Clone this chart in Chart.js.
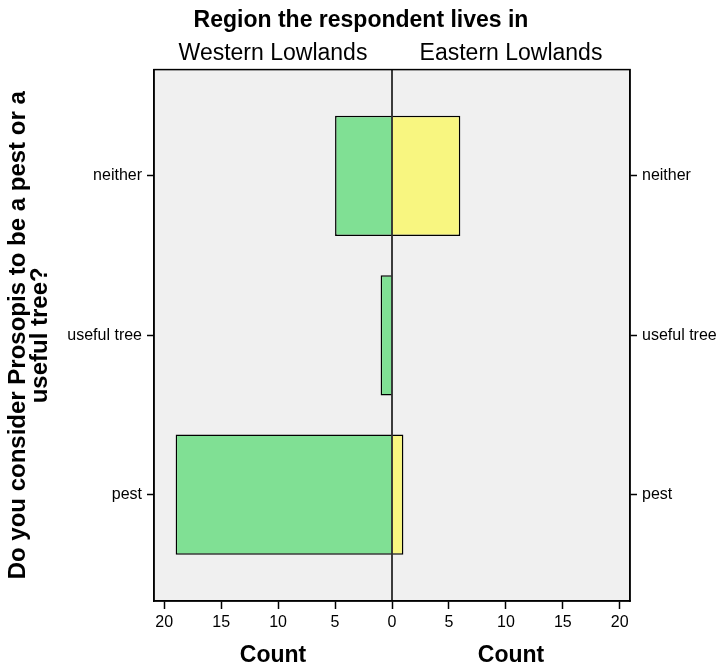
<!DOCTYPE html>
<html>
<head>
<meta charset="utf-8">
<script src="https://cdn.jsdelivr.net/npm/chart.js@4.4.1/dist/chart.umd.min.js"></script>
<style>
  body { margin: 0; background: #fff; }
  #wrap { width: 722px; height: 668px; }
</style>
</head>
<body>
<div id="wrap"><canvas id="chart"></canvas></div>
<script>
const categories = ["neither", "useful tree", "pest"];
const regions = ["Western Lowlands", "Eastern Lowlands"];
const western = [5, 1, 19];
const eastern = [6, 0, 1];
const countTicks = [-20, -15, -10, -5, 0, 5, 10, 15, 20];

const FONT = "'Liberation Sans', Arial, sans-serif";

const frame = {
  id: "frame",
  beforeDraw(chart) {
    const { ctx, chartArea: a } = chart;
    ctx.save();
    ctx.fillStyle = "#f0f0f0";
    ctx.fillRect(a.left, a.top, a.right - a.left, a.bottom - a.top);
    ctx.restore();
  },
  afterDraw(chart) {
    const { ctx, chartArea: a } = chart;
    const mid = chart.scales.x.getPixelForValue(0);
    ctx.save();
    ctx.strokeStyle = "#000";
    ctx.lineWidth = 1.5;
    ctx.strokeRect(a.left, a.top, a.right - a.left, a.bottom - a.top);
    ctx.beginPath();
    ctx.moveTo(mid, a.top);
    ctx.lineTo(mid, a.bottom);
    ctx.stroke();
    ctx.fillStyle = "#000";
    ctx.textAlign = "center";
    ctx.textBaseline = "middle";
    ctx.font = "23px " + FONT;
    ctx.fillText(regions[0], (a.left + mid) / 2, 54);
    ctx.fillText(regions[1], (mid + a.right) / 2, 54);
    ctx.font = "bold 23px " + FONT;
    ctx.fillText("Count", (a.left + mid) / 2, 656);
    ctx.fillText("Count", (mid + a.right) / 2, 656);
    ctx.restore();
  }
};

function catAxis(position, width) {
  return {
    type: "linear",
    position: position,
    reverse: true,
    offset: false,
    min: -0.667,
    max: categories.length - 1 + 0.667,
    stacked: true,
    afterBuildTicks: (s) => { s.ticks = categories.map((c, i) => ({ value: i })); },
    afterFit: (s) => { s.width = width; },
    ticks: {
      autoSkip: false,
      padding: 5,
      color: "#000",
      font: { family: FONT, size: 16 },
      callback: (v) => categories[v]
    },
    grid: { offset: false, drawOnChartArea: false, tickLength: 7, tickColor: "#000", tickWidth: 1.5 },
    border: { display: true, color: "#000", width: 1.5 }
  };
}

const yLeft = catAxis("left", 154);
yLeft.title = {
  display: true,
  text: ["Do you consider Prosopis to be a pest or a", "useful tree?"],
  color: "#000",
  font: { family: FONT, size: 24, weight: "bold", lineHeight: 0.92 },
  padding: { top: 7, bottom: 0 }
};
const yRight = catAxis("right", 92);

new Chart(document.getElementById("chart"), {
  type: "bar",
  data: {
    datasets: [
      {
        label: regions[0],
        data: western.map((v, i) => ({ x: -v, y: i })),
        backgroundColor: "#80e094",
        borderColor: "#000",
        borderWidth: 1.5,
        borderSkipped: "start"
      },
      {
        label: regions[1],
        data: eastern.map((v, i) => ({ x: v, y: i })),
        backgroundColor: "#f8f680",
        borderColor: "#000",
        borderWidth: 1.5,
        borderSkipped: "start"
      }
    ]
  },
  options: {
    indexAxis: "y",
    responsive: true,
    maintainAspectRatio: false,
    animation: false,
    layout: { padding: 0 },
    barPercentage: 0.755,
    categoryPercentage: 1,
    plugins: {
      legend: { display: false },
      tooltip: { enabled: false },
      title: {
        display: true,
        text: "Region the respondent lives in",
        color: "#000",
        font: { family: FONT, size: 23, weight: "bold", lineHeight: 1.2 },
        padding: { top: 7, bottom: 35 }
      }
    },
    scales: {
      x: {
        type: "linear",
        min: -20.9,
        max: 20.9,
        stacked: true,
        afterBuildTicks: (s) => { s.ticks = countTicks.map((v) => ({ value: v })); },
        afterFit: (s) => { s.height = 67; },
        ticks: {
          autoSkip: false,
          maxRotation: 0,
          padding: 4,
          color: "#000",
          font: { family: FONT, size: 16 },
          callback: (v) => Math.abs(v)
        },
        grid: {
          drawOnChartArea: false,
          tickColor: "#000",
          tickLength: 8,
          tickWidth: 1.5
        },
        border: { display: true, color: "#000", width: 1.5 }
      },
      y: yLeft,
      y2: yRight
    }
  },
  plugins: [frame]
});
</script>
</body>
</html>
